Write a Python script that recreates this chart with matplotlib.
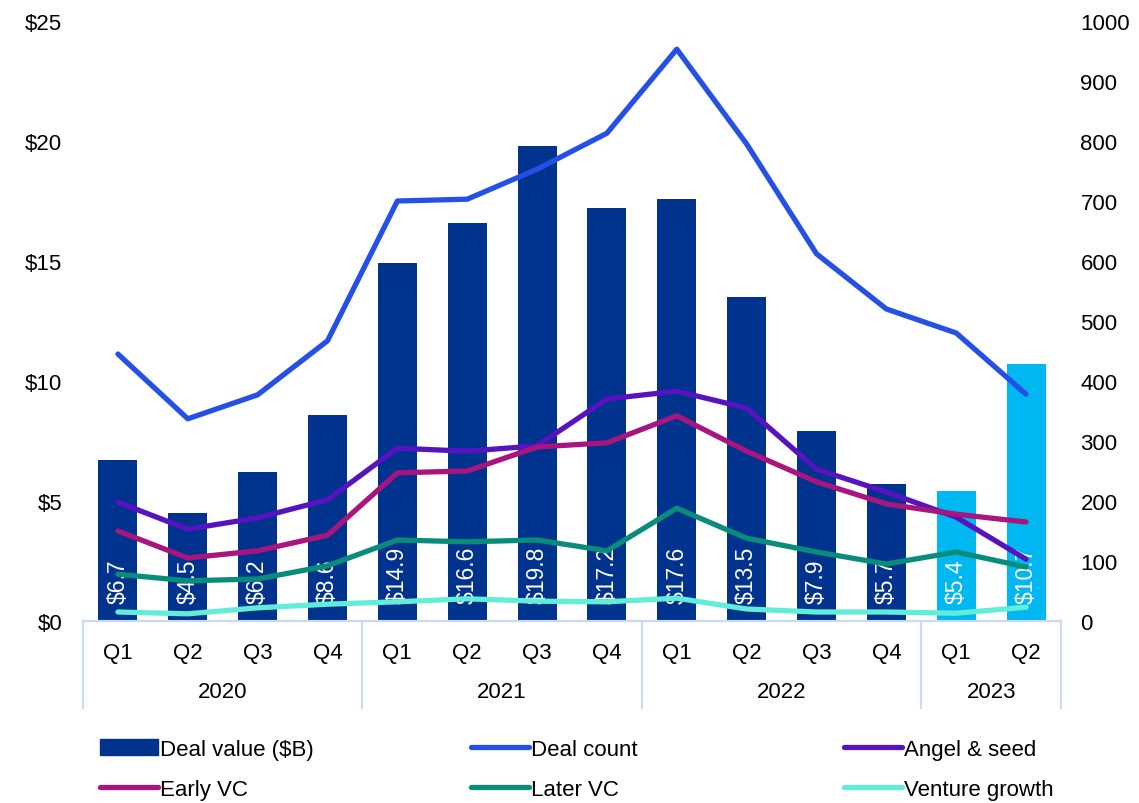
import matplotlib.pyplot as plt
import numpy as np
from matplotlib.lines import Line2D
from matplotlib.patches import Patch

plt.rcParams['font.family'] = ['Liberation Sans', 'DejaVu Sans']

quarters = ["Q1", "Q2", "Q3", "Q4", "Q1", "Q2", "Q3", "Q4",
            "Q1", "Q2", "Q3", "Q4", "Q1", "Q2"]
years = ["2020", "2021", "2022", "2023"]
quarters_per_year = [4, 4, 4, 2]

deal_value = [6.7, 4.5, 6.2, 8.6, 14.9, 16.6, 19.8, 17.2,
              17.6, 13.5, 7.9, 5.7, 5.4, 10.7]
deal_count = [445, 337, 377, 467, 700, 703, 753, 813,
              953, 795, 612, 520, 480, 378]
angel_seed = [198, 153, 172, 202, 288, 283, 292, 370,
              383, 355, 253, 215, 173, 103]
early_vc = [150, 105, 117, 143, 247, 250, 290, 297,
            342, 283, 232, 195, 178, 165]
later_vc = [78, 67, 70, 92, 135, 132, 135, 117,
            188, 138, 115, 95, 115, 90]
venture_growth = [15, 12, 22, 28, 32, 37, 33, 32,
                  38, 20, 15, 15, 13, 23]

navy = "#00338D"
light = "#00B8F1"
bar_colors = [navy] * 12 + [light] * 2
line_specs = [
    ("Deal count", deal_count, "#2450E6"),
    ("Angel & seed", angel_seed, "#5713BF"),
    ("Early VC", early_vc, "#A8157F"),
    ("Later VC", later_vc, "#0A8C7A"),
    ("Venture growth", venture_growth, "#63EDD9"),
]
sep_color = "#C9D9F5"
lw = 3.8

fig = plt.figure(figsize=(11.39, 8.04), dpi=100)
ax = fig.add_axes([83 / 1139, 1 - 622 / 804, 978 / 1139, 600 / 804])
ax2 = ax.twinx()

x = np.arange(len(deal_value))
ax.bar(x, deal_value, width=0.56, color=bar_colors, zorder=2)
for xi, v in zip(x, deal_value):
    ax.text(xi, 0.75, f"${v}", rotation=90, ha="center", va="bottom",
            color="white", fontsize=16.5, zorder=5)

for name, vals, c in line_specs:
    ax2.plot(x, vals, color=c, lw=lw, solid_capstyle="round",
             solid_joinstyle="round")

ax.set_xlim(-0.5, len(x) - 0.5)
ax.set_ylim(0, 25)
ax2.set_ylim(0, 1000)
ax.set_yticks(np.arange(0, 26, 5))
ax.set_yticklabels([f"${v}" for v in range(0, 26, 5)])
ax2.set_yticks(np.arange(0, 1001, 100))
ax.tick_params(axis="y", length=0, labelsize=16, pad=15)
ax2.tick_params(axis="y", length=0, labelsize=16, pad=14)
ax.set_xticks(x)
ax.set_xticklabels(quarters)
ax.tick_params(axis="x", length=0, labelsize=16, pad=15)

for a in (ax, ax2):
    for s in ("left", "right", "top"):
        a.spines[s].set_visible(False)
    a.spines["bottom"].set_color(sep_color)
    a.spines["bottom"].set_linewidth(1.5)
ax2.set_zorder(ax.get_zorder() + 1)
ax2.patch.set_visible(False)

# two-level category axis
trans = ax.get_xaxis_transform()
bounds = np.concatenate([[0], np.cumsum(quarters_per_year)]) - 0.5
for b in bounds:
    ax.plot([b, b], [0, -0.145], color=sep_color, lw=1.5,
            transform=trans, clip_on=False)
for i, yr in enumerate(years):
    mid = (bounds[i] + bounds[i + 1]) / 2
    ax.text(mid, -0.118, yr, transform=trans, ha="center", va="center",
            fontsize=16)

handles = [Patch(color=navy, label="Deal value ($B)")]
handles += [Line2D([0], [0], color=c, lw=lw, solid_capstyle="round", label=n)
            for n, _, c in line_specs]
# three legend columns, filled row by row
col_x = [82 / 1139, 453 / 1139, 826 / 1139]
for ci, cx in enumerate(col_x):
    leg = fig.legend(handles=[handles[ci], handles[ci + 3]], loc="lower left",
                     frameon=False, fontsize=16, bbox_to_anchor=(cx, -0.018),
                     handlelength=2.6, handletextpad=0.1, labelspacing=0.85,
                     borderpad=0.3)

fig.savefig("out.png", dpi=100)
